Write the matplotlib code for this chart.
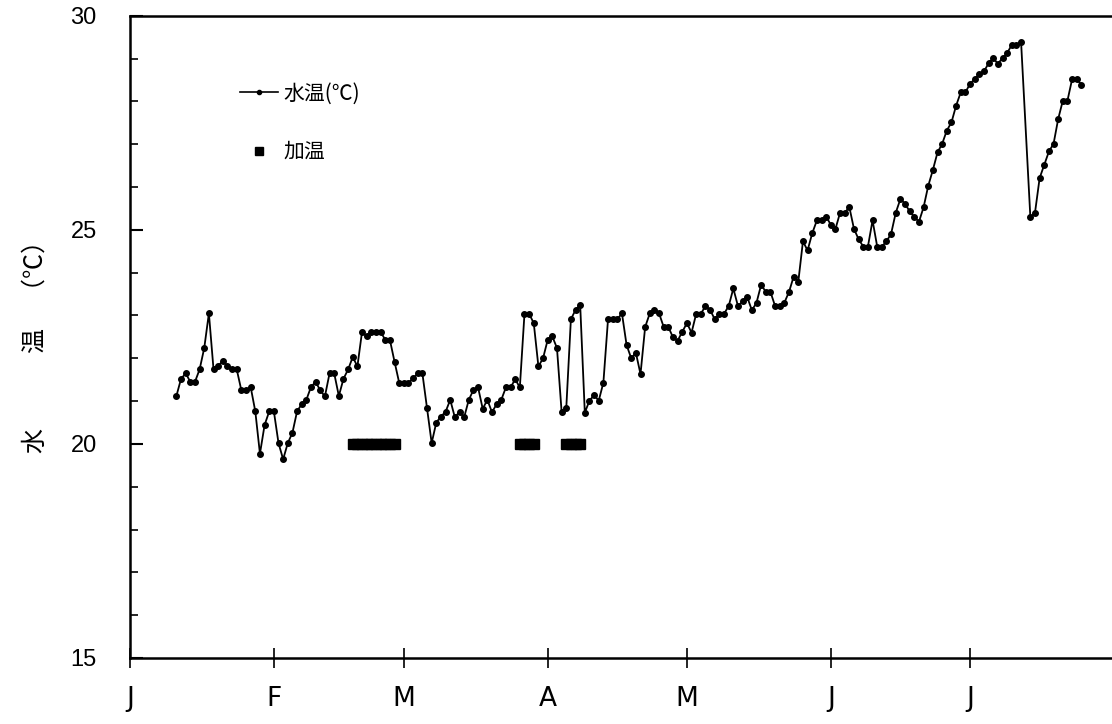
import numpy as np
import matplotlib
matplotlib.use("Agg")
import matplotlib.pyplot as plt
from matplotlib.lines import Line2D
from matplotlib.ticker import MultipleLocator

plt.rcParams['font.family'] = ['Noto Sans CJK JP', 'DejaVu Sans']

# daily water temperature (deg C), starting Jan 11; one day missing in July
temps = [
    21.12, 21.52, 21.65, 21.45, 21.45, 21.74, 22.24, 23.05, 21.74, 21.82,
    21.94, 21.82, 21.74, 21.74, 21.25, 21.25, 21.33, 20.76, 19.77, 20.44,
    20.76, 20.76, 20.02, 19.64, 20.02, 20.26, 20.76,
    20.93, 21.03, 21.33, 21.45, 21.25, 21.11, 21.65, 21.65, 21.12, 21.52,
    21.74, 22.03, 21.81, 22.62, 22.51, 22.61, 22.62, 22.62, 22.43, 22.43,
    21.92, 21.43, 21.43, 21.43, 21.53, 21.65, 21.65, 20.83,
    20.02, 20.50, 20.64, 20.75, 21.03, 20.62, 20.75, 20.62, 21.03, 21.26,
    21.32, 20.82, 21.03, 20.74, 20.93, 21.03, 21.32, 21.32, 21.51, 21.32,
    23.04, 23.04, 22.82, 21.81, 22.00, 22.43, 22.51, 22.24,
    20.75, 20.83, 22.91, 23.13, 23.25, 20.73, 21.01, 21.14, 21.01, 21.43,
    22.91, 22.91, 22.91, 23.05, 22.31, 22.00, 22.13, 21.63, 22.73, 23.05,
    23.13, 23.05, 22.73, 22.73, 22.49, 22.41, 22.62, 22.82,
    22.60, 23.04, 23.04, 23.22, 23.13, 22.91, 23.04, 23.04, 23.22, 23.63,
    23.22, 23.33, 23.43, 23.12, 23.30, 23.72, 23.55, 23.55, 23.22, 23.22,
    23.30, 23.55, 23.91, 23.79, 24.73, 24.52, 24.92, 25.22, 25.22, 25.31,
    25.12, 25.02, 25.40, 25.40, 25.53, 25.02, 24.78, 24.61, 24.61, 25.22,
    24.61, 24.61, 24.73, 24.91, 25.40, 25.72, 25.61, 25.43, 25.30, 25.19,
    25.53, 26.03, 26.40, 26.81, 27.01, 27.32, 27.51, 27.90,
    28.21, 28.21, 28.41, 28.52, 28.64, 28.70, 28.89, 29.01, 28.88, 29.01,
    29.13, 29.32, 29.32, 29.39,
    25.30, 25.40, 26.21, 26.52, 26.83, 27.01, 27.59, 28.02, 28.02, 28.52,
    28.52, 28.39,
]
first_day = 10          # day of year, Jan 1 = 0
missing_day = 193
days = [d for d in range(first_day, first_day + len(temps) + 1) if d != missing_day]

# days when the heater was on
heat_days = list(range(48, 58)) + list(range(84, 88)) + list(range(94, 98))
heat_level = 20

month_starts = [0, 31, 59, 90, 120, 151, 181]
month_labels = ['J', 'F', 'M', 'A', 'M', 'J', 'J']

fig = plt.figure(figsize=(11.12, 7.24), dpi=100)
ax = fig.add_axes([0.1169, 0.0912, 0.8848, 0.887])

ax.plot(days, temps, color='black', lw=1.3, marker='o', ms=4.0,
        label='水温(℃)')
ax.plot(heat_days, [heat_level] * len(heat_days), ls='none', marker='s',
        ms=7.4, color='black', label='加温')

ax.set_xlim(0, 212)
ax.set_ylim(15, 30)

ax.set_xticks(month_starts)
ax.set_xticklabels(month_labels, family=['Liberation Sans Narrow', 'DejaVu Sans'],
                   fontsize=19)
ax.tick_params(axis='x', direction='inout', length=14, width=1.2, pad=13)

ax.yaxis.set_major_locator(MultipleLocator(5))
ax.yaxis.set_minor_locator(MultipleLocator(1))
ax.tick_params(axis='y', which='major', direction='in', length=9, width=1.5,
               pad=24, labelsize=17)
ax.tick_params(axis='y', which='minor', direction='in', length=6, width=1.2)
for lab in ax.get_yticklabels():
    lab.set_family(['Liberation Sans', 'DejaVu Sans'])

for side in ['left', 'bottom', 'top']:
    ax.spines[side].set_linewidth(1.8)
ax.spines['right'].set_visible(False)

handles = [
    Line2D([], [], color='black', lw=1.2, marker='o', ms=3),
    Line2D([], [], color='black', ls='none', marker='s', ms=6),
]
ax.legend(handles, ['水温(℃)', '加温'], loc='upper left',
          bbox_to_anchor=(0.093, 0.925), frameon=False, fontsize=15,
          labelspacing=1.75, handlelength=1.8, handletextpad=0.25)

fig.text(0.032, 0.53, '水\u3000\u3000\u3000温\u3000（℃）',
         rotation=90, ha='center', va='center', fontsize=18)

fig.savefig('out.png', dpi=100)
